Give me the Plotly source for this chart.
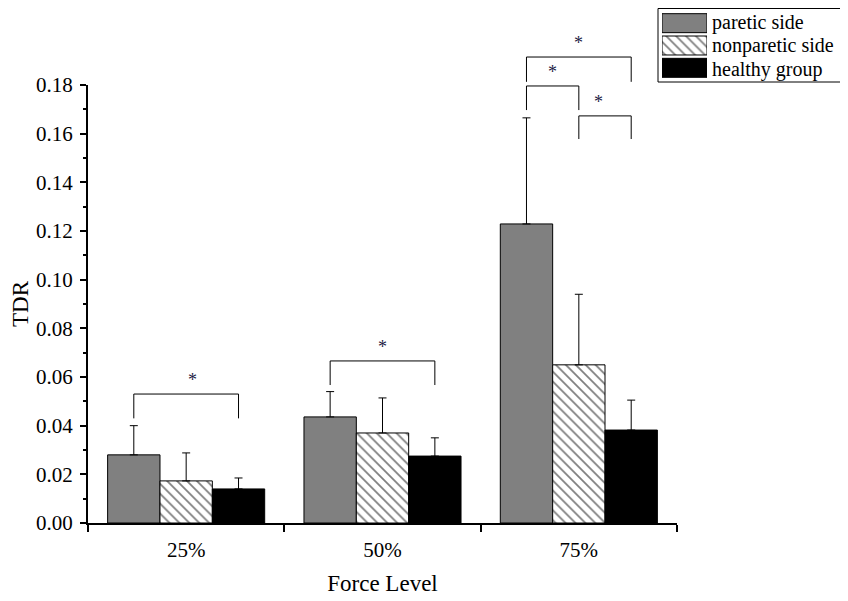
import plotly.graph_objects as go

# data
levels = ["25%", "50%", "75%"]
groups = ["paretic side", "nonparetic side", "healthy group"]
paretic = [0.028, 0.0436, 0.1229]
paretic_err = [0.012, 0.0104, 0.0436]
nonparetic = [0.0173, 0.037, 0.065]
nonparetic_err = [0.0115, 0.0144, 0.029]
healthy = [0.014, 0.0275, 0.0382]
healthy_err = [0.0045, 0.0075, 0.0123]

# significance brackets: (level index, bar a, bar b, top, leg bottom)
brackets = [
    (0, 0, 2, 0.053, 0.043),
    (1, 0, 2, 0.0666, 0.0567),
    (2, 0, 2, 0.1915, 0.1813),
    (2, 0, 1, 0.1796, 0.1697),
    (2, 1, 2, 0.1673, 0.1578),
]

font = "Times New Roman, Liberation Serif, serif"
W, H = 848, 601
OFF = 8  # page body margin shifts the figure by this much
ml, mr, mt, mb = 88 - OFF, 13 - OFF, 0, 78 + OFF
pw, ph = W - ml - mr, H - mt - mb
bottom = 523 - OFF  # x axis in figure pixels
xdom = (677 - 88) / pw
ymax = 0.18
ydom = (523 - 85) / ph


def fx(x):  # screen x -> paper
    return (x - OFF - ml) / pw


def fy(y):  # screen y -> paper
    return (bottom - (y - OFF)) / ph


styles = [
    dict(color="#808080", line=dict(color="black", width=1)),
    dict(color="white", line=dict(color="black", width=1),
         pattern=dict(shape="\\", size=7, solidity=0.25, fgcolor="black")),
    dict(color="black", line=dict(color="black", width=1)),
]
series = [(paretic, paretic_err), (nonparetic, nonparetic_err), (healthy, healthy_err)]

fig = go.Figure()
for name, (vals, errs), st in zip(groups, series, styles):
    fig.add_bar(x=levels, y=vals, name=name, marker=st, showlegend=False,
                error_y=dict(type="data", array=errs, arrayminus=[0] * 3,
                             symmetric=False, color="black", thickness=1, width=4))
    # swatch for the hand-made legend
    fig.add_bar(x=[1], y=[name], orientation="h", xaxis="x2", yaxis="y2",
                marker=st, width=0.85, offsetgroup="lg", showlegend=False,
                hoverinfo="skip")

bar_w = 0.8 / 3


def to_paper_y(v):
    return v / ymax * ydom


def bx(level, bar):
    i = level + (bar - 1) * bar_w
    return (i + 0.5) / 3 * xdom


line = dict(color="black", width=1)
for lev, a, b, top, bot in brackets:
    xa, xb = bx(lev, a), bx(lev, b)
    yt, yb = to_paper_y(top), to_paper_y(bot)
    fig.add_shape(type="path", xref="paper", yref="paper",
                  path=f"M{xa},{yb} L{xa},{yt} L{xb},{yt} L{xb},{yb}", line=line)
    fig.add_annotation(x=(xa + xb) / 2, y=yt, xref="paper", yref="paper",
                       text="*", showarrow=False, yanchor="bottom", yshift=2,
                       font=dict(family=font, size=18, color="#1c1c44"))

# legend box and labels
fig.add_shape(type="rect", xref="paper", yref="paper",
              x0=fx(658), x1=fx(843), y0=fy(82), y1=fy(8.5), line=line)
for name, yc in zip(groups, [23, 45, 69]):
    fig.add_annotation(x=fx(710), y=fy(yc), xref="paper", yref="paper",
                       text=name, showarrow=False, xanchor="left", yanchor="middle",
                       font=dict(family=font, size=20, color="black"))

fig.update_layout(
    width=W, height=H,
    margin=dict(l=ml, r=mr, t=mt, b=mb),
    paper_bgcolor="white", plot_bgcolor="white",
    barmode="group", bargap=0.2, bargroupgap=0,
    font=dict(family=font, color="black"),
    xaxis=dict(domain=[0, xdom], type="category", range=[-0.5, 2.5], automargin=False,
               tickson="boundaries", ticks="outside", ticklen=7, tickwidth=2,
               tickcolor="black", showline=True, linewidth=2, linecolor="black",
               showgrid=False, tickfont=dict(size=21), ticklabelstandoff=7,
               title=dict(text="Force Level", font=dict(size=23), standoff=14)),
    yaxis=dict(domain=[0, ydom], range=[0, ymax], dtick=0.02, tickformat=".2f",
               automargin=False, ticklabelstandoff=3,
               ticks="outside", ticklen=6, tickwidth=2, tickcolor="black",
               minor=dict(dtick=0.01, ticks="outside", ticklen=3, tickwidth=1.5,
                          tickcolor="black"),
               showline=True, linewidth=2, linecolor="black", showgrid=False,
               zeroline=False, tickfont=dict(size=21),
               title=dict(text="TDR", font=dict(size=23), standoff=10)),
    xaxis2=dict(domain=[fx(662), fx(707)], range=[0, 1],
                visible=False, anchor="y2"),
    yaxis2=dict(domain=[fy(79), fy(12)], range=[2.5, -0.5],
                type="category", visible=False, anchor="x2"),
)

fig.write_html("out.html")
